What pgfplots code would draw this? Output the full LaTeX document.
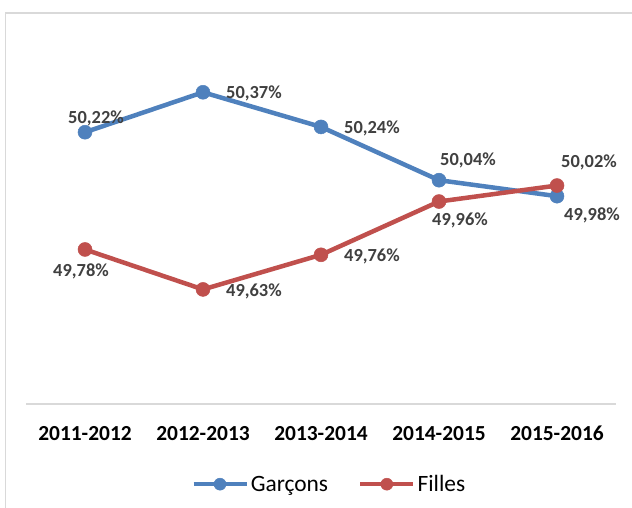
\documentclass[border=0pt]{standalone}
\usepackage{pgfplots}
\pgfplotsset{compat=1.18}
\usepackage{fontspec}
\setmainfont{Carlito}
\definecolor{gblue}{HTML}{4F81BD}
\definecolor{fred}{HTML}{C0504D}
\definecolor{lbl}{HTML}{404040}
\definecolor{axgray}{HTML}{D9D9D9}
\begin{document}
\begin{tikzpicture}
\useasboundingbox (0,0) rectangle (632bp,508bp);
\fill[white] (0,0) rectangle (632bp,508bp);
\draw[axgray, line width=1.5bp] (5.5bp,-10bp) rectangle (650bp,495bp);
\begin{axis}[
  at={(26bp,104bp)}, anchor=south west,
  scale only axis, width=590bp, height=373bp,
  xmin=-0.5, xmax=4.5, ymin=49.2, ymax=50.6,
  axis x line*=bottom, axis y line=none,
  x axis line style={axgray, line width=1.5bp, -},
  xtick={0,1,2,3,4},
  xticklabels={2011-2012,2012-2013,2013-2014,2014-2015,2015-2016},
  major tick length=0pt,
  xticklabel style={font=\fontsize{21.5}{24}\selectfont\bfseries, text=black, anchor=base, yshift=-37bp},
  /pgf/number format/assume math mode=true,
  clip=false,
  legend columns=2,
  legend style={at={(0.514,-0.215)}, anchor=center, draw=none, fill=none,
    font=\fontsize{23.5}{26}\selectfont, text=black,
    /tikz/every even column/.append style={column sep=28bp},
    nodes={inner sep=2bp}},
  legend image code/.code={\draw[mark repeat=2,mark phase=2,mark size=6bp] plot coordinates {(0bp,0bp) (26.5bp,0bp) (53bp,0bp)};},
  every axis plot/.append style={line width=4.5bp, mark=*, mark size=7bp},
]
\addplot[gblue, mark options={fill=gblue, draw=gblue, line width=0.5bp}] coordinates {(0,50.22) (1,50.37) (2,50.24) (3,50.04) (4,49.98)};
\addlegendentry{Garçons}
\addplot[fred, mark options={fill=fred, draw=fred, line width=0.5bp}] coordinates {(0,49.78) (1,49.63) (2,49.76) (3,49.96) (4,50.02)};
\addlegendentry{Filles}

\begin{scope}[every node/.style={font=\fontsize{18.5}{20}\selectfont\bfseries, text=lbl, inner sep=0pt}]
\node at ([shift={(11bp,14bp)}]axis cs:0,50.22) {50,22\%};
\node[anchor=west] at ([shift={(23bp,-1bp)}]axis cs:1,50.37) {50,37\%};
\node[anchor=west] at ([shift={(23bp,-1bp)}]axis cs:2,50.24) {50,24\%};
\node at ([shift={(29bp,20bp)}]axis cs:3,50.04) {50,04\%};
\node at ([shift={(32bp,23bp)}]axis cs:4,50.02) {50,02\%};
\node at ([shift={(35bp,-19bp)}]axis cs:4,49.98) {49,98\%};
\node at ([shift={(21bp,-19bp)}]axis cs:3,49.96) {49,96\%};
\node at ([shift={(-4bp,-22bp)}]axis cs:0,49.78) {49,78\%};
\node[anchor=west] at ([shift={(23bp,-2bp)}]axis cs:1,49.63) {49,63\%};
\node[anchor=west] at ([shift={(23bp,-2bp)}]axis cs:2,49.76) {49,76\%};
\end{scope}
\end{axis}
\end{tikzpicture}
\end{document}
